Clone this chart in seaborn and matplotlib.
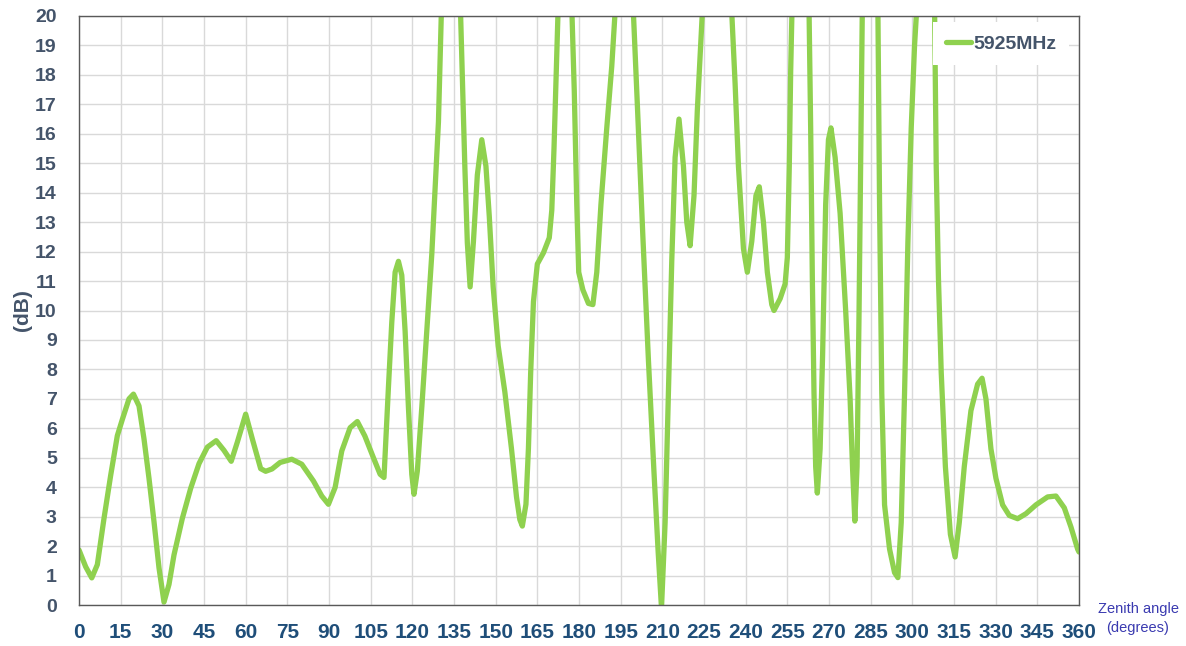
import matplotlib
matplotlib.use('Agg')
import matplotlib.pyplot as plt
import seaborn as sns
import pandas as pd

# zenith angle (degrees) and gain (dB)
# (values above 20 dB are where the curve leaves the plot at the top)
angles = [0, 2.4, 4.6, 6.6, 9.0, 11.4, 13.8, 15.6, 18.0, 19.6, 21.6, 23.4, 25.2, 27.0, 28.8,
          30.6, 32.4, 34.2, 37.2, 40.2, 43.2, 46.2, 49.4, 52.2, 54.8, 57.0, 60.0, 62.4, 65.4,
          67.2, 69.5, 72.4, 76.6, 80.2, 84.4, 87.4, 89.8, 92.2, 94.6, 97.6, 100.2, 102.9, 106.0,
          108.4, 109.8, 111.4, 112.6, 113.8, 115.0, 116.2, 117.4, 118.6, 119.8, 120.6, 121.8,
          123.4, 125.2, 127.0, 129.4, 130.5, 134.0, 137.3, 138.9, 139.8, 140.8, 142.0, 143.4,
          145.0, 146.5, 147.7, 149.1, 150.9, 153.3, 155.7, 157.5, 158.7, 159.6, 160.9, 161.8,
          162.6, 163.6, 165.0, 167.2, 169.3, 170.2, 171.0, 171.8, 172.5, 175.0, 177.4, 178.3,
          179.2, 179.9, 181.4, 183.4, 185.0, 186.4, 187.9, 190.0, 191.8, 193.1, 196.5, 199.5,
          201.0, 203.0, 205.0, 207.0, 208.5, 209.7, 211.0, 212.2, 213.4, 214.6, 216.0, 217.6,
          218.8, 220.0, 221.4, 222.6, 223.8, 224.5, 230.0, 234.9, 236.2, 237.4, 239.2, 240.6,
          242.2, 243.7, 244.9, 246.4, 247.8, 249.4, 250.2, 252.4, 254.2, 255.0, 255.7, 256.2,
          256.7, 259.8, 262.8, 263.4, 264.0, 264.6, 265.2, 265.8, 266.8, 267.7, 268.8, 269.8,
          270.7, 272.2, 274.0, 276.0, 277.6, 278.5, 279.3, 280.1, 280.8, 281.4, 282.0, 284.8,
          287.6, 288.2, 289.0, 290.0, 291.8, 293.6, 294.8, 296.0, 297.2, 298.4, 299.6, 300.8,
          301.6, 304.8, 308.0, 308.6, 309.4, 310.4, 311.9, 313.7, 315.4, 316.9, 318.7, 321.1,
          323.5, 325.1, 326.5, 328.3, 330.1, 332.5, 334.9, 337.9, 340.9, 344.5, 348.7, 351.7,
          354.7, 357.1, 359.5, 360]
gain_db = [1.87, 1.3, 0.92, 1.37, 2.94, 4.4, 5.75, 6.3, 7.0, 7.16, 6.76, 5.64, 4.3, 2.83, 1.26,
           0.1, 0.7, 1.7, 2.94, 3.96, 4.8, 5.36, 5.58, 5.25, 4.88, 5.53, 6.48, 5.64, 4.63,
           4.54, 4.62, 4.84, 4.95, 4.78, 4.21, 3.7, 3.42, 3.99, 5.23, 6.02, 6.23, 5.74, 5.0,
           4.44, 4.33, 7.4, 9.6, 11.3, 11.67, 11.2, 9.3, 6.7, 4.44, 3.76, 4.55,
           6.7, 9.3, 11.9, 16.4, 20.3, 25.0, 20.3, 14.9, 12.3, 10.8, 12.35, 14.6,
           15.8, 14.9, 13.2, 10.8, 8.8, 7.24, 5.3, 3.67, 2.9, 2.68, 3.42, 5.33,
           7.88, 10.3, 11.58, 11.96, 12.47, 13.4, 15.5, 18.1, 20.3, 24.0, 20.3, 17.45,
           13.6, 11.3, 10.7, 10.24, 10.2, 11.3, 13.6, 16.2, 18.3, 20.3, 24.0, 20.3,
           17.0, 12.5, 8.3, 4.5, 1.8, -0.1, 2.8, 7.2, 11.7, 15.2, 16.5, 14.9,
           13.0, 12.2, 13.9, 16.8, 19.0, 20.3, 27.0, 20.3, 17.7, 14.9, 12.1, 11.3,
           12.35, 13.9, 14.2, 13.0, 11.3, 10.2, 10.0, 10.4, 10.9, 11.8, 14.9, 18.1,
           20.3, 25.0, 20.3, 16.2, 11.1, 7.2, 4.7, 3.8, 5.3, 8.5, 13.6, 15.8,
           16.2, 15.2, 13.3, 10.0, 7.0, 4.6, 2.85, 4.7, 9.8, 14.9, 20.3, 26.0,
           20.3, 13.6, 7.2, 3.4, 1.9, 1.1, 0.93, 2.8, 7.2, 12.3, 16.2, 19.0,
           20.3, 25.0, 20.3, 14.9, 11.1, 7.9, 4.7, 2.4, 1.63, 2.8, 4.7, 6.6,
           7.5, 7.7, 7.0, 5.3, 4.3, 3.4, 3.04, 2.93, 3.1, 3.4, 3.67, 3.7,
           3.3, 2.65, 1.9, 1.8]

x_ticks = list(range(0, 361, 15))
y_ticks = list(range(0, 21))
series_name = "5925MHz"

df = pd.DataFrame({"angle": angles, "gain": gain_db})

sns.set_theme(style="whitegrid")
plt.rcParams['font.family'] = ['Liberation Sans', 'DejaVu Sans']

fig = plt.figure(figsize=(11.86, 6.46), dpi=100)
ax = fig.add_axes([79 / 1186, 1 - 605 / 646, 1000 / 1186, 589 / 646])

sns.lineplot(data=df, x="angle", y="gain", ax=ax, color="#8fd14f", linewidth=3.8,
             label=series_name, sort=False, estimator=None)
for ln in ax.get_lines():
    ln.set_solid_joinstyle('round')
    ln.set_solid_capstyle('round')

ax.set_xlim(0, 360)
ax.set_ylim(0, 20)
ax.set_xticks(x_ticks)
ax.set_yticks(y_ticks)
ax.grid(True, color="#d9d9d9", linewidth=1.0)
ax.set_facecolor("white")
for s in ax.spines.values():
    s.set_visible(True)
    s.set_color("#595959")
    s.set_linewidth(1.0)

ax.tick_params(axis='y', length=0, pad=16, labelsize=14, labelcolor="#44546a")
ax.tick_params(axis='x', length=0, pad=13, labelsize=15, labelcolor="#1f4e79")
for lab in ax.get_yticklabels() + ax.get_xticklabels():
    lab.set_fontweight('bold')

ax.set_xlabel("")
ax.set_ylabel("(dB)", fontsize=15, fontweight='bold', color="#44546a", labelpad=2)

fig.text(1138 / 1186, 1 - 609 / 646, "Zenith angle", ha='center', va='center',
         fontsize=10.5, color="#3a3ab0")
fig.text(1138 / 1186, 1 - 628 / 646, "(degrees)", ha='center', va='center',
         fontsize=10.5, color="#3a3ab0")

leg = ax.legend(loc='upper right', bbox_to_anchor=(0.99, 0.989), frameon=True,
                facecolor='white', edgecolor='none', framealpha=1, fancybox=False,
                handlelength=1.3, handletextpad=0.1, borderpad=0.65, borderaxespad=0,
                prop={'weight': 'bold', 'size': 14})
for t in leg.get_texts():
    t.set_color("#44546a")

fig.savefig("out.png", dpi=100)
